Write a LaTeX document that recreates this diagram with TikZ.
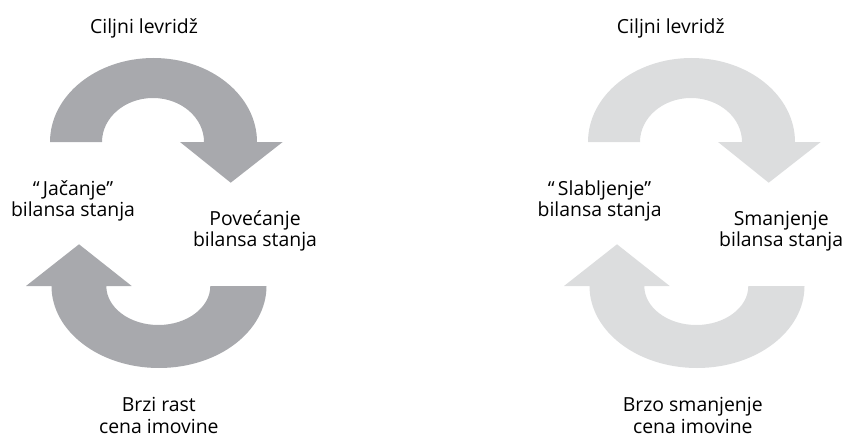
\documentclass[tikz,border=0pt]{standalone}
\usepackage{fontspec}
\setmainfont{Open Sans}
\usepackage{tikz}

\definecolor{darkloop}{RGB}{168,169,173}
\definecolor{lightloop}{RGB}{220,221,222}

\begin{document}
\begin{tikzpicture}[every node/.style={align=center, font=\fontsize{13.8}{15.4}\selectfont, inner sep=0pt, outer sep=0pt}]
\useasboundingbox (0,0) rectangle (21.1,10.9);

% left loop
\fill[darkloop] (1.25,7.35) arc[start angle=180, end angle=0, x radius=2.5875, y radius=2.1]
  -- (7.0675,7.35) -- (5.7675,6.3325) -- (4.5,7.35) -- (5.1,7.35)
  arc[start angle=0, end angle=180, x radius=1.275, y radius=1.1] -- cycle;
\fill[darkloop] (6.6625,3.75) arc[start angle=0, end angle=-180, x radius=2.6875, y radius=2.05]
  -- (0.65,3.75) -- (1.975,4.7925) -- (3.2925,3.75) -- (2.6575,3.75)
  arc[start angle=180, end angle=360, x radius=1.3, y radius=0.975] -- cycle;

% right loop
\begin{scope}[xshift=13.45cm]
\fill[lightloop] (1.25,7.35) arc[start angle=180, end angle=0, x radius=2.5875, y radius=2.1]
  -- (7.0675,7.35) -- (5.7675,6.3325) -- (4.5,7.35) -- (5.1,7.35)
  arc[start angle=0, end angle=180, x radius=1.275, y radius=1.1] -- cycle;
\fill[lightloop] (6.6625,3.75) arc[start angle=0, end angle=-180, x radius=2.6875, y radius=2.05]
  -- (0.65,3.75) -- (1.975,4.7925) -- (3.2925,3.75) -- (2.6575,3.75)
  arc[start angle=180, end angle=360, x radius=1.3, y radius=0.975] -- cycle;
\end{scope}

\node[anchor=base] (targetL) at (3.6,10.075) {Ciljni levridž};
\node[anchor=base] (strongL) at (1.825,5.4825) {“\,Jačanje”\\bilansa stanja};
\node[anchor=base] (growL) at (6.375,4.7325) {Povećanje\\bilansa stanja};
\node[anchor=base] (pricesL) at (3.97,0.0675) {Brzi rast\\cena imovine};

\node[anchor=base] (targetR) at (16.77,10.075) {Ciljni levridž};
\node[anchor=base] (weakR) at (14.99,5.4825) {“\,Slabljenje”\\bilansa stanja};
\node[anchor=base] (shrinkR) at (19.53,4.7325) {Smanjenje\\bilansa stanja};
\node[anchor=base] (pricesR) at (17.32,0.07) {Brzo smanjenje\\cena imovine};
\end{tikzpicture}
\end{document}
